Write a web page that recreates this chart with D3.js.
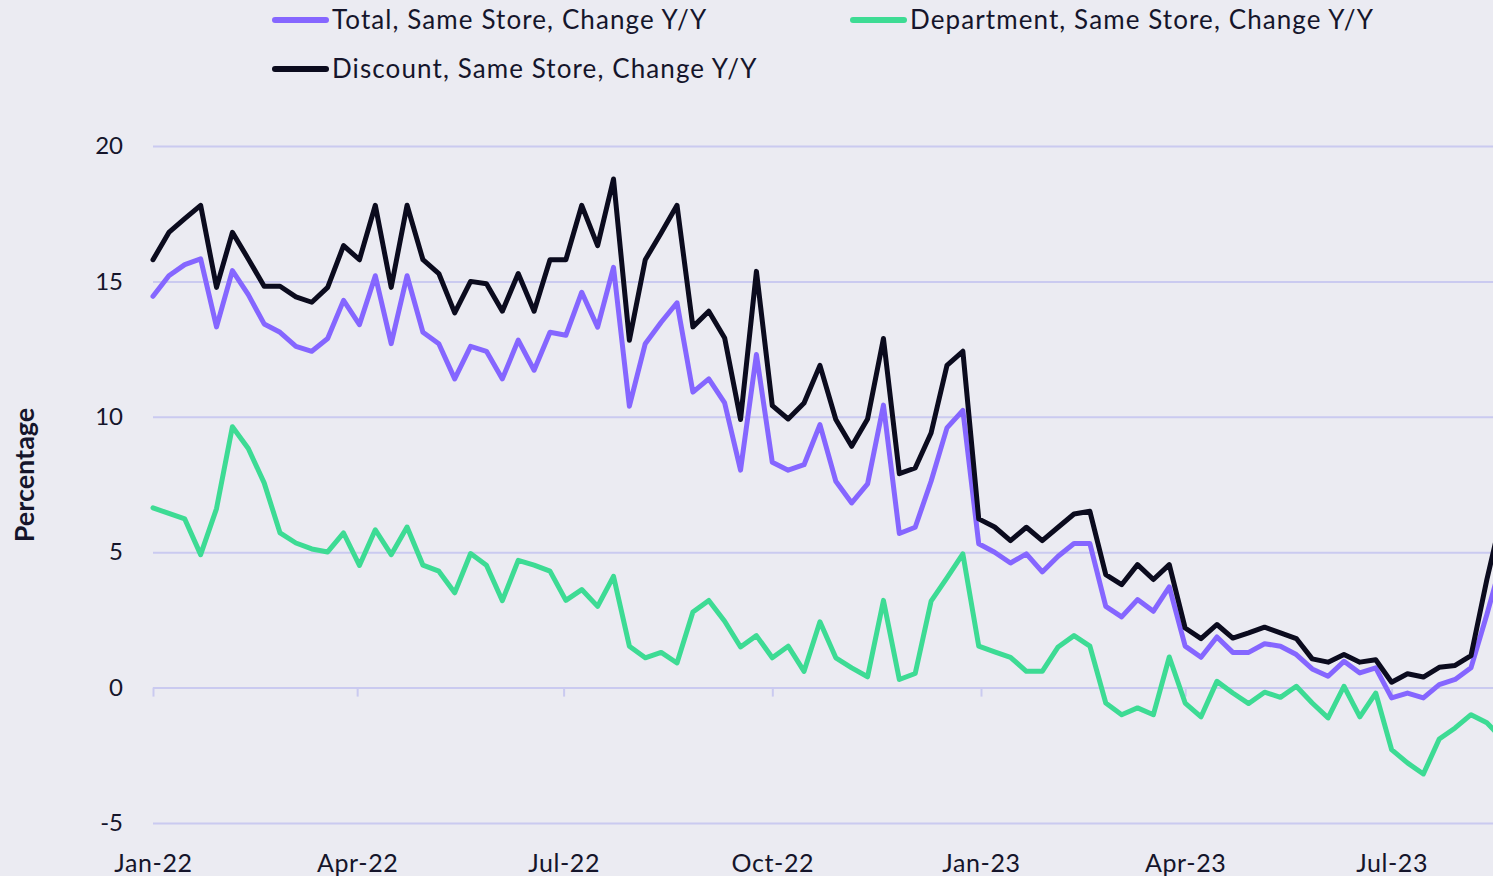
<!DOCTYPE html>
<html>
<head>
<meta charset="utf-8">
<script src="https://cdnjs.cloudflare.com/ajax/libs/d3/7.8.5/d3.min.js"></script>
<style>
  html, body { margin: 0; padding: 0; background: #ebebf2; }
  svg { display: block; font-family: Lato, "Open Sans", sans-serif; }
</style>
</head>
<body>
<svg id="chart"></svg>
<script>
// weekly series, first week starts 1 Jan 2022
var startDate = new Date(2022, 0, 1);

var seriesNames = ["Total, Same Store, Change Y/Y", "Department, Same Store, Change Y/Y", "Discount, Same Store, Change Y/Y"];
var seriesColors = ["#8566ff", "#3ddb94", "#0b0b1e"];

var total = [14.45, 15.21, 15.62, 15.83, 13.32, 15.40, 14.51, 13.43, 13.12, 12.60,
  12.42, 12.89, 14.30, 13.40, 15.21, 12.70, 15.21, 13.12, 12.70, 11.40,
  12.60, 12.42, 11.40, 12.83, 11.72, 13.12, 13.01, 14.60, 13.31, 15.52,
  10.39, 12.70, 13.49, 14.21, 10.91, 11.40, 10.51, 8.03, 12.30, 8.32,
  8.03, 8.23, 9.71, 7.62, 6.82, 7.52, 10.43, 5.69, 5.92, 7.62,
  9.59, 10.24, 5.31, 5.00, 4.60, 4.94, 4.27, 4.85, 5.32, 5.32,
  3.00, 2.61, 3.25, 2.82, 3.72, 1.53, 1.12, 1.87, 1.30, 1.30,
  1.62, 1.53, 1.22, 0.69, 0.42, 0.97, 0.54, 0.73, -0.38, -0.20,
  -0.38, 0.11, 0.30, 0.73, 2.70, 4.80];

var department = [6.64, 6.43, 6.23, 4.91, 6.61, 9.63, 8.83, 7.56, 5.71, 5.34,
  5.12, 5.01, 5.71, 4.51, 5.83, 4.91, 5.93, 4.52, 4.30, 3.50,
  4.95, 4.52, 3.21, 4.70, 4.52, 4.30, 3.22, 3.62, 3.00, 4.11,
  1.53, 1.10, 1.30, 0.91, 2.79, 3.22, 2.45, 1.50, 1.92, 1.10,
  1.53, 0.60, 2.43, 1.10, 0.73, 0.40, 3.22, 0.30, 0.52, 3.19,
  4.05, 4.94, 1.53, 1.32, 1.12, 0.60, 0.60, 1.50, 1.92, 1.53,
  -0.57, -1.00, -0.75, -1.00, 1.13, -0.57, -1.08, 0.23, -0.20, -0.59,
  -0.17, -0.36, 0.05, -0.57, -1.12, 0.05, -1.08, -0.20, -2.29, -2.78,
  -3.19, -1.90, -1.49, -1.00, -1.30, -1.90];

var discount = [15.80, 16.81, 17.32, 17.81, 14.78, 16.81, 15.83, 14.82, 14.82, 14.43,
  14.23, 14.78, 16.32, 15.80, 17.81, 14.78, 17.81, 15.80, 15.29, 13.84,
  15.00, 14.91, 13.90, 15.29, 13.90, 15.80, 15.80, 17.81, 16.32, 18.78,
  12.83, 15.80, 16.79, 17.81, 13.32, 13.90, 12.91, 9.90, 15.37, 10.41,
  9.92, 10.51, 11.90, 9.90, 8.91, 9.92, 12.89, 7.90, 8.11, 9.40,
  11.90, 12.42, 6.23, 5.93, 5.43, 5.92, 5.43, 5.92, 6.41, 6.51,
  4.17, 3.80, 4.54, 3.99, 4.54, 2.20, 1.81, 2.33, 1.83, 2.02,
  2.23, 2.02, 1.81, 1.06, 0.94, 1.22, 0.94, 1.03, 0.20, 0.51,
  0.39, 0.75, 0.82, 1.18, 3.99, 6.50];

var yTicks = [-5, 0, 5, 10, 15, 20];

var width = 1493, height = 876;
var svg = d3.select("#chart").attr("width", width).attr("height", height);

// Scales
var x = d3.scaleTime()
    .domain([startDate, new Date(2023, 0, 1)])
    .range([153, 981]);
var y = d3.scaleLinear().domain([-5, 20]).range([823, 146]);

// Gridlines + y labels (plain hyphen for negatives, like the original)
var yAxis = svg.append("g")
    .attr("transform", "translate(153,0)")
    .call(d3.axisLeft(y).tickValues(yTicks).tickFormat(function (d) { return String(d); })
        .tickSize(-(width - 153)).tickPadding(30));
yAxis.select(".domain").remove();
yAxis.selectAll(".tick line").attr("stroke", "#cacaf0").attr("stroke-width", 2);
yAxis.selectAll(".tick text")
    .attr("font-size", 24).attr("fill", "#15152b")
    .attr("font-family", "Lato, sans-serif");

// x axis ticks on the zero line
var xTicks = d3.timeMonth.every(3).range(startDate, x.invert(width));
var xAxis = svg.append("g")
    .attr("transform", "translate(0," + y(0) + ")")
    .call(d3.axisBottom(x).tickValues(xTicks).tickFormat(d3.timeFormat("%b-%y")).tickSize(9));
xAxis.select(".domain").remove();
xAxis.selectAll(".tick line").attr("stroke", "#cacaf0").attr("stroke-width", 2);
xAxis.selectAll(".tick text")
    .attr("y", y(-5) - y(0) + 40).attr("dy", "0.35em")
    .attr("font-size", 25).attr("fill", "#15152b")
    .attr("letter-spacing", 0.6)
    .attr("font-family", "Lato, sans-serif");

// Lines
var allSeries = [total, department, discount];
var line = d3.line()
    .x(function (d, i) { return x(d3.timeDay.offset(startDate, 7 * i)); })
    .y(function (d) { return y(d); });

svg.append("g").selectAll("path")
    .data(allSeries)
    .enter().append("path")
    .attr("d", line)
    .attr("fill", "none")
    .attr("stroke", function (d, i) { return seriesColors[i]; })
    .attr("stroke-width", 5)
    .attr("stroke-linejoin", "round")
    .attr("stroke-linecap", "round");

// Legend
var legendPos = [[275, 20], [853, 20], [275, 69]];
var legend = svg.append("g").selectAll("g")
    .data(seriesNames)
    .enter().append("g")
    .attr("transform", function (d, i) { return "translate(" + legendPos[i][0] + "," + legendPos[i][1] + ")"; });
legend.append("line")
    .attr("x1", 0).attr("x2", 51)
    .attr("stroke", function (d, i) { return seriesColors[i]; })
    .attr("stroke-width", 6)
    .attr("stroke-linecap", "round");
legend.append("text")
    .attr("x", 57)
    .attr("dy", "0.35em")
    .attr("font-size", 26)
    .attr("letter-spacing", 1.1)
    .attr("fill", "#15152b")
    .text(function (d) { return d; });

// Y title
svg.append("text")
    .attr("transform", "translate(34,475)rotate(-90)")
    .attr("text-anchor", "middle")
    .attr("font-size", 27)
    .attr("font-weight", "bold")
    .attr("fill", "#15152b")
    .text("Percentage");
</script>
</body>
</html>
